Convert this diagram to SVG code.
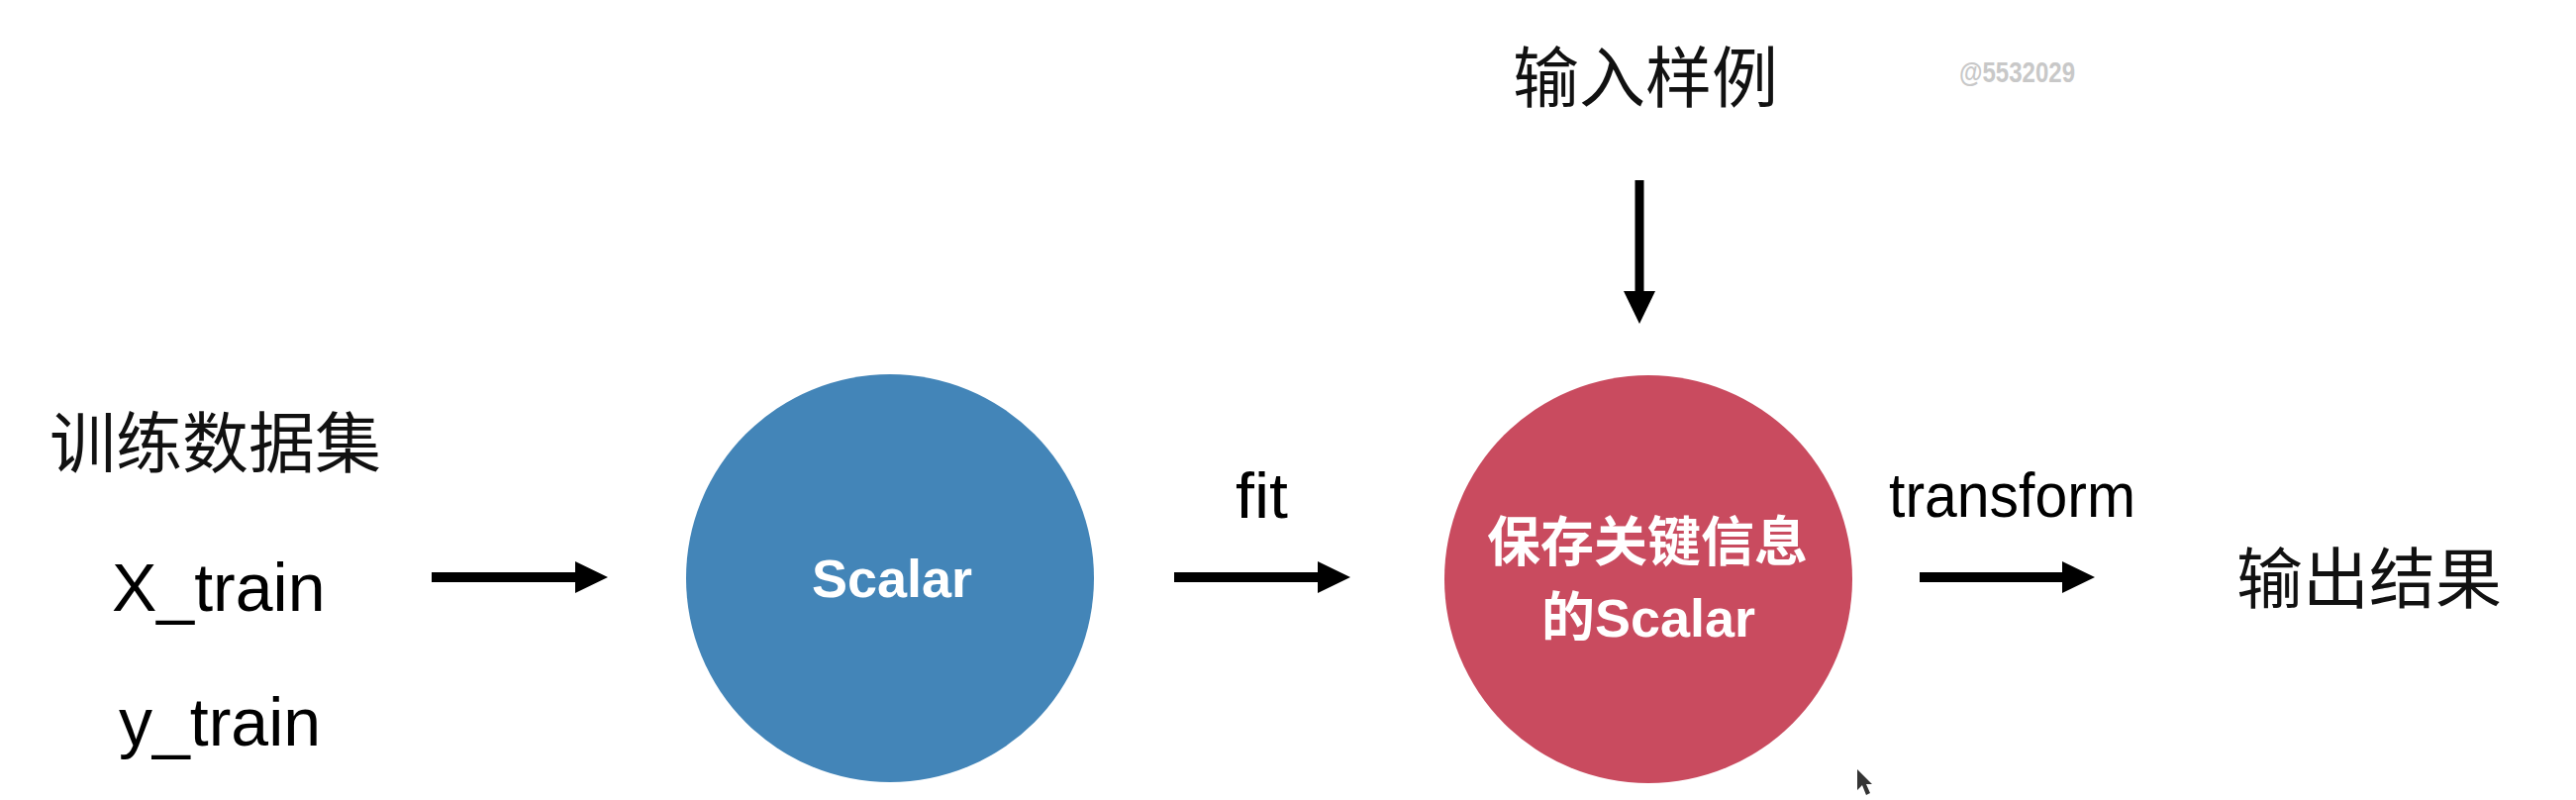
<svg xmlns="http://www.w3.org/2000/svg" width="2602" height="808" viewBox="0 0 2602 808">
  <defs>
    <marker id="head" markerUnits="userSpaceOnUse" markerWidth="34" markerHeight="34" refX="0" refY="16" orient="auto" viewBox="0 0 34 34">
      <path d="M0,0 L33,16 L0,32 z" fill="#000"/>
    </marker>
    <style>
      .lbl { font-family: "Liberation Sans", "Noto Sans CJK SC", sans-serif; fill: #000; }
      .cjk { font-family: "Noto Sans CJK SC", "Liberation Sans", sans-serif; fill: #111; font-size: 67px; }
      .inner { font-family: "Liberation Sans", "Noto Sans CJK SC", sans-serif; fill: #fff; font-weight: bold; text-anchor: middle; }
      .conn { stroke: #000; fill: none; marker-end: url(#head); }
    </style>
  </defs>
  <rect width="2602" height="808" fill="#fff"/>

  <g id="train-data">
    <text class="cjk" x="50" y="472">训练数据集</text>
    <text class="lbl" x="113" y="617" font-size="68">X_train</text>
    <text class="lbl" x="120" y="753" font-size="68">y_train</text>
  </g>

  <g id="scalar">
    <circle cx="899" cy="584" r="206" fill="#4385b8"/>
    <text class="inner" x="901" y="603" font-size="54">Scalar</text>
  </g>

  <g id="fitted-scalar">
    <circle cx="1665" cy="585" r="206" fill="#c94b5f"/>
    <text class="inner" x="1664" y="567" font-size="54">保存关键信息</text>
    <text class="inner" x="1665" y="643" font-size="54">的Scalar</text>
  </g>

  <g id="input-sample">
    <text class="cjk" x="1528" y="103">输入样例</text>
  </g>

  <g id="output">
    <text class="cjk" x="2259" y="609">输出结果</text>
  </g>

  <g id="connectors">
    <line class="conn" x1="436" y1="583" x2="581" y2="583" stroke-width="10"/>
    <line class="conn" x1="1186" y1="583" x2="1331" y2="583" stroke-width="10"/>
    <line class="conn" x1="1939" y1="583" x2="2083" y2="583" stroke-width="10"/>
    <line class="conn" x1="1656" y1="182" x2="1656" y2="294" stroke-width="9"/>
    <text class="lbl" x="1248" y="523" font-size="64" textLength="53" lengthAdjust="spacingAndGlyphs">fit</text>
    <text class="lbl" x="1908" y="522" font-size="63" textLength="249" lengthAdjust="spacingAndGlyphs">transform</text>
  </g>

  <g id="watermark">
    <text x="1979" y="83" font-family="Liberation Sans, sans-serif" font-weight="bold" font-size="29" fill="#c8c8c8" textLength="117" lengthAdjust="spacingAndGlyphs">@5532029</text>
  </g>

  <g id="cursor">
    <path d="M1876,777 L1876,798 L1881,793 L1885,803 L1889,801 L1885,792 L1891,792 z" fill="#111" opacity="0.85"/>
  </g>
</svg>
